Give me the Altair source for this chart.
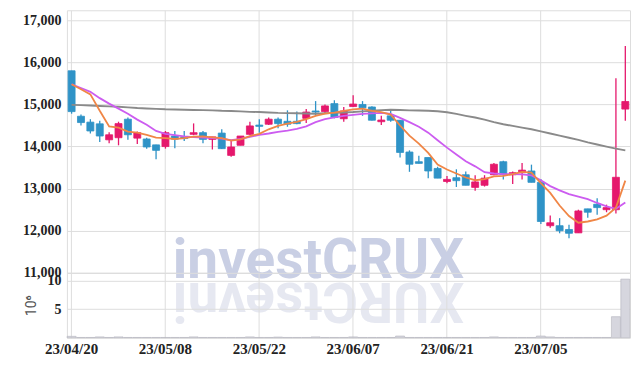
import altair as alt
import pandas as pd

dates = ["23/04/20", "23/04/21", "23/04/24", "23/04/25", "23/04/26", "23/04/27", "23/04/28", "23/05/02", "23/05/03", "23/05/04",
         "23/05/08", "23/05/09", "23/05/10", "23/05/11", "23/05/12", "23/05/15", "23/05/16", "23/05/17", "23/05/18", "23/05/19",
         "23/05/22", "23/05/23", "23/05/24", "23/05/25", "23/05/26", "23/05/30", "23/05/31", "23/06/01", "23/06/02", "23/06/05",
         "23/06/07", "23/06/08", "23/06/09", "23/06/12", "23/06/13", "23/06/14", "23/06/15", "23/06/16", "23/06/19", "23/06/20",
         "23/06/21", "23/06/22", "23/06/23", "23/06/26", "23/06/27", "23/06/28", "23/06/29", "23/06/30", "23/07/03", "23/07/04",
         "23/07/05", "23/07/06", "23/07/07", "23/07/10", "23/07/11", "23/07/12", "23/07/13", "23/07/14", "23/07/17", "23/07/18"]

label_dates = ["23/04/20", "23/05/08", "23/05/22", "23/06/07", "23/06/21", "23/07/05"]
price_ticks = [11000, 12000, 13000, 14000, 15000, 16000, 17000]
vol_ticks = [5, 10]

open_ = [15800, 14720, 14580, 14540, 14160, 14210, 14650, 14200, 14180, 14040,
         14000, 14250, 14230, 14290, 14330, 14170, 14320, 13790, 14030, 14290,
         14510, 14530, 14650, 14600, 14600, 14670, 14845, 14830, 15020, 14660,
         14950, 15000, 14940, 14590, 14730, 14625, 13870, 13640, 13740, 13480,
         13170, 13260, 13330, 13030, 13080, 13330, 13640, 13330, 13380, 13420,
         13150, 12120, 12120, 12030, 11950, 12520, 12630, 12500, 12500, 14890]
close = [14830, 14570, 14370, 14250, 14280, 14545, 14280, 14330, 13990, 13910,
         14330, 14175, 14190, 14330, 14170, 14230, 13950, 13990, 14250, 14490,
         14480, 14650, 14545, 14530, 14545, 14820, 14820, 14965, 14690, 14845,
         15010, 14920, 14625, 14630, 14625, 13860, 13580, 13600, 13420, 13250,
         13220, 13190, 13080, 13160, 13250, 13580, 13340, 13380, 13440, 13150,
         12220, 12190, 12000, 11940, 12470, 12440, 12550, 12550, 13270, 15070]
high = [15800, 14760, 14650, 14610, 14340, 14590, 14690, 14360, 14210, 14040,
        14370, 14370, 14370, 14550, 14370, 14230, 14410, 14130, 14250, 14590,
        14650, 14690, 14690, 14860, 14830, 14890, 15080, 15000, 15100, 14940,
        15220, 15080, 14960, 14730, 14890, 14625, 13910, 13780, 13740, 13520,
        13300, 13460, 13410, 13320, 13320, 13610, 13660, 13410, 13610, 13570,
        13230, 12360, 12300, 12140, 12500, 12520, 12770, 12620, 15620, 16390]
low = [14780, 14500, 14310, 14110, 14080, 14030, 14160, 14060, 13950, 13700,
       13950, 13960, 14130, 14270, 14080, 13930, 13940, 13760, 14030, 14270,
       14330, 14510, 14435, 14470, 14530, 14560, 14740, 14780, 14670, 14590,
       14940, 14730, 14620, 14510, 14590, 13740, 13400, 13600, 13250, 13250,
       13130, 13040, 13080, 12950, 13050, 13320, 13220, 13110, 13220, 13150,
       12160, 12070, 11940, 11820, 11950, 12310, 12380, 12440, 12410, 14610]

ma5 = [15480, 15360, 15240, 14850, 14480, 14450, 14355, 14330, 14275, 14210,
       14200, 14180, 14200, 14235, 14240, 14220, 14200, 14140, 14170, 14250,
       14300, 14410, 14490, 14545, 14585, 14650, 14730, 14780, 14805, 14845,
       14885, 14900, 14845, 14820, 14760, 14500, 14260, 14070, 13850, 13570,
       13455, 13360, 13265, 13200, 13225, 13290, 13305, 13345, 13400, 13380,
       13130, 12900, 12600, 12350, 12190, 12220, 12270, 12360, 12550, 13190]
ma10 = [15480, 15390, 15300, 15150, 15020, 14900, 14780, 14640, 14520, 14370,
        14300, 14270, 14240, 14225, 14210, 14200, 14190, 14150, 14180, 14230,
        14280, 14310, 14350, 14380, 14420, 14480, 14580, 14650, 14695, 14730,
        14755, 14775, 14790, 14800, 14775, 14680, 14580, 14470, 14330, 14150,
        13975, 13810, 13650, 13530, 13390, 13360, 13345, 13345, 13340, 13315,
        13200, 13060, 12960, 12870, 12810, 12750, 12660, 12580, 12520, 12670]
ma_long = [14990, 14985, 14975, 14965, 14955, 14945, 14930, 14915, 14905, 14895,
           14885, 14880, 14875, 14870, 14865, 14860, 14850, 14845, 14835, 14825,
           14820, 14810, 14800, 14795, 14790, 14785, 14780, 14790, 14800, 14810,
           14820, 14835, 14850, 14865, 14875, 14870, 14860, 14855, 14850, 14840,
           14815, 14775, 14730, 14690, 14640, 14580, 14530, 14490, 14450, 14410,
           14360, 14310, 14260, 14210, 14160, 14100, 14050, 14000, 13950, 13910]

volume = [0.25, 0.05, 0.05, 0.15, 0.05, 0.15, 0.05, 0.05, 0.05, 0.05,
          0.05, 0.05, 0.05, 0.15, 0.05, 0.05, 0.05, 0.05, 0.05, 0.15,
          0.05, 0.05, 0.12, 0.05, 0.05, 0.05, 0.15, 0.05, 0.05, 0.05,
          0.15, 0.05, 0.05, 0.05, 0.05, 0.3, 0.05, 0.05, 0.05, 0.05,
          0.05, 0.05, 0.05, 0.05, 0.05, 0.15, 0.05, 0.05, 0.05, 0.05,
          0.3, 0.15, 0.05, 0.05, 0.05, 0.05, 0.05, 0.05, 3.7, 10.3]

df = pd.DataFrame({
    "date": dates, "open": open_, "close": close, "high": high, "low": low,
    "ma5": ma5, "ma10": ma10, "ma_long": ma_long, "volume": volume,
})
df["dir"] = ["up" if c >= o else "down" for o, c in zip(open_, close)]

UP = "#e5186c"
DOWN = "#2f93c7"
FONT = "Liberation Sans Narrow"
W = 564

xscale = alt.Scale(domain=dates, paddingInner=0, paddingOuter=0)
color = alt.Color("dir:N", scale=alt.Scale(domain=["up", "down"], range=[UP, DOWN]), legend=None)

x_price = alt.X("date:O", sort=dates, scale=xscale,
                axis=alt.Axis(labels=False, ticks=False, domain=False, grid=True,
                              values=label_dates, title=None))
yscale = alt.Scale(domain=[11000, 17237], nice=False, zero=False)
y_axis = alt.Axis(values=price_ticks, labelExpr="format(datum.value, ',')", title=None,
                  ticks=False, domain=False, labelPadding=6, labelFontSize=14,
                  labelFont=FONT, labelFontWeight="bold", labelColor="#222")

base = alt.Chart(df)

wm_df = pd.DataFrame({"t": ["investCRUX"], "r": ["XURCtsevni"]})
watermark = alt.Chart(wm_df).mark_text(
    font="Roboto", fontWeight="bold", fontSize=55, color="#c9cfe4",
    align="center", baseline="alphabetic"
).encode(text="t:N", x=alt.value(252), y=alt.value(268))
reflection = alt.Chart(wm_df).mark_text(
    font="Roboto", fontWeight="bold", fontSize=55, color="#e6e8f1",
    align="center", baseline="alphabetic", angle=180
).encode(text="r:N", x=alt.value(252), y=alt.value(273))

wick = base.mark_rule(strokeWidth=1.3).encode(
    x=x_price, y=alt.Y("low:Q", scale=yscale, axis=y_axis), y2="high:Q", color=color)
body = base.mark_bar(size=7, strokeWidth=0.8).encode(
    x=x_price, y=alt.Y("open:Q", scale=yscale, axis=y_axis), y2="close:Q",
    color=color, stroke=color)
line_long = base.mark_line(color="#8a8a8a", strokeWidth=1.9).encode(
    x=x_price, y=alt.Y("ma_long:Q", scale=yscale, axis=y_axis))
line10 = base.mark_line(color="#cc5cf0", strokeWidth=1.8).encode(
    x=x_price, y=alt.Y("ma10:Q", scale=yscale, axis=y_axis))
line5 = base.mark_line(color="#f08646", strokeWidth=1.8).encode(
    x=x_price, y=alt.Y("ma5:Q", scale=yscale, axis=y_axis))

price = alt.layer(watermark, reflection, wick, body, line_long, line10, line5).properties(
    width=W, height=263)

x_vol = alt.X("date:O", sort=dates, scale=xscale,
              axis=alt.Axis(values=label_dates, labelAngle=0, ticks=False, domain=False,
                            grid=True, title=None, labelPadding=4, labelFontSize=15,
                            labelFont=FONT, labelFontWeight="bold", labelColor="#222"))
vol = base.mark_bar(size=9, color="#d6d6de", stroke="#b4b4bd", strokeWidth=0.6).encode(
    x=x_vol,
    y=alt.Y("volume:Q", scale=alt.Scale(domain=[0, 11.4], nice=False),
            axis=alt.Axis(values=vol_ticks, title="10\u2076", ticks=False, domain=False,
                          labelPadding=6, labelFontSize=14, labelFont=FONT,
                          labelFontWeight="bold", labelColor="#222",
                          titleFont="Roboto", titleFontSize=14, titleFontWeight="normal",
                          titleColor="#555", titlePadding=8))
).properties(width=W, height=65)

chart = alt.vconcat(price, vol, spacing=0, bounds="flush").properties(
    padding={"left": 14, "top": 1, "right": 0, "bottom": 0}
).configure_view(
    stroke="#d4d4dc", strokeWidth=1
).configure_axis(
    gridColor="#b3bad4", gridDash=[1.5, 2.5], gridWidth=1
).configure(background="white")

chart.save("out.html", embed_options={"renderer": "svg", "actions": False})
